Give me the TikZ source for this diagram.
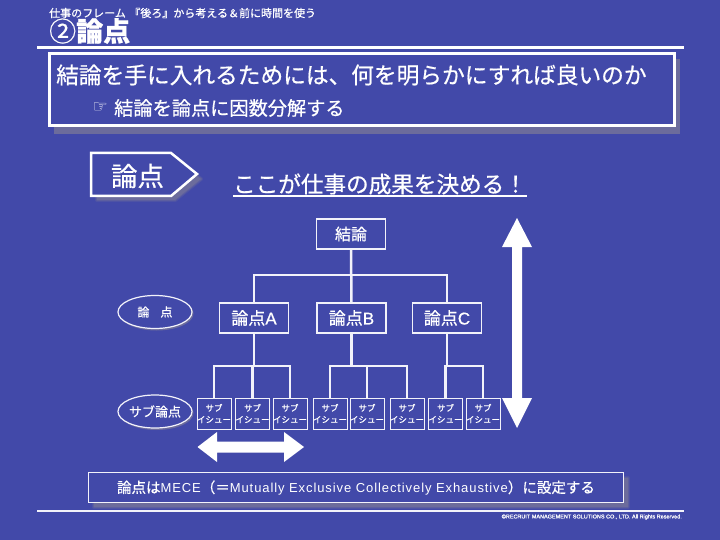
\documentclass[tikz,border=0pt]{standalone}
\usepackage{fontspec}
\setmainfont{Noto Sans CJK JP}[RawFeature={embolden=0.6}]
\newfontfamily\lat[RawFeature={embolden=0.6}]{Liberation Sans}
\newfontfamily\latsp[LetterSpace=7]{Liberation Sans}
\newfontfamily\symb{DejaVu Sans}
\newcommand{\fs}[1]{\fontsize{#1}{#1}\selectfont}
\definecolor{bgblue}{HTML}{4249A9}
\definecolor{shadowblue}{HTML}{6C6C9C}
\definecolor{linewhite}{HTML}{F2F2FA}
\tikzset{
  txt/.style={text=white, inner sep=0pt},
  softshadow/.style={preaction={draw=shadowblue, line width=4pt, opacity=.3, line join=round},
    preaction={draw=shadowblue, line width=2pt, opacity=.5, line join=round}, fill=shadowblue},
  ronbox/.style={draw=linewhite, line width=1.5pt, fill=bgblue, text=white, inner sep=0pt,
    minimum width=69pt, minimum height=30pt, font=\fs{17}},
  subbox/.style={draw=linewhite, line width=1pt, fill=bgblue, text=white, inner sep=0pt,
    minimum width=34pt, minimum height=31pt, align=center, font=\fs{8.5}},
  oval/.style={draw=linewhite, line width=1.2pt, fill=bgblue, text=white, ellipse, inner sep=0pt,
    minimum width=74pt, minimum height=33pt},
  tree/.style={draw=linewhite, line width=2.5pt},
}
\usetikzlibrary{shapes.geometric}
\begin{document}
\begin{tikzpicture}[x=1pt, y=-1pt]
    \useasboundingbox (0, 0) rectangle (720, 540) ;
    \fill[bgblue] (0, 0) rectangle (720, 540) ;
  %--- Titre
    \node[txt, anchor=west, font=\fs{11}] (soustitre) at (49, 13) {仕事のフレーム\hspace{3.5pt}『後ろ』から考える＆前に時間を使う} ;
    \node[txt, anchor=west, font=\fs{27}] (titre) at (49, 31) {②{\bfseries 論点}} ;
    \draw[white, line width=2.5pt] (37, 47.5) -- (684, 47.5) ;
  %--- Cadre du haut
    \fill[shadowblue] (54, 59) rectangle (680, 134) ;
    \draw[white, line width=3pt, fill=bgblue] (49, 54) rectangle (674, 126) ;
    \node[txt, anchor=west, font=\fs{22.7}] (question) at (56, 75) {結論を手に入れるためには、何を明らかにすれば良いのか} ;
    \node[txt, anchor=west, font=\fs{19.2}] (reponse) at (114, 108) {結論を論点に因数分解する} ;
    \node[txt, anchor=east, font=\fs{17}\symb] (main) at (108, 108) {☞} ;
  %--- Etiquette
    \path[softshadow] (97, 159) -- (175, 159) -- (201, 179) -- (175, 200) -- (97, 200) -- cycle ;
    \draw[white, line width=2.5pt, fill=bgblue] (91, 153) -- (171, 153) -- (197, 174) -- (171, 196) -- (91, 196) -- cycle ;
    \node[txt, font=\fs{26.5}] (etiquette) at (137.5, 176) {論点} ;
    \node[txt, font=\fs{22.6}] (resultat) at (380, 184) {ここが仕事の成果を決める！} ;
    \draw[white, line width=1.5pt] (233, 196) -- (527, 196) ;
  %--- Ovales
    \fill[shadowblue] (156.5, 313.5) ellipse (37 and 17) ;
    \fill[shadowblue] (156.5, 413) ellipse (37 and 17) ;
    \node[oval, font=\fs{12}] (ovalA) at (155, 312) {論\hspace{11pt}点} ;
    \node[oval, font=\fs{13}] (ovalB) at (155, 411.5) {サブ論点} ;
  %--- Arbre
    \node[ronbox, font=\fs{16}] (conclusion) at (351, 234) {結論} ;
    \node[ronbox] (ronA) at (254, 318) {論点{\lat A}} ;
    \node[ronbox] (ronB) at (351.5, 318) {論点{\lat B}} ;
    \node[ronbox] (ronC) at (447, 318) {論点{\lat C}} ;
    \node[subbox] (subA1) at (214, 413.5) {サブ\\[3pt]イシュー} ;
    \node[subbox] (subA2) at (252.5, 413.5) {サブ\\[3pt]イシュー} ;
    \node[subbox] (subA3) at (290, 413.5) {サブ\\[3pt]イシュー} ;
    \node[subbox] (subB1) at (330, 413.5) {サブ\\[3pt]イシュー} ;
    \node[subbox] (subB2) at (367, 413.5) {サブ\\[3pt]イシュー} ;
    \node[subbox] (subB3) at (407, 413.5) {サブ\\[3pt]イシュー} ;
    \node[subbox] (subC1) at (445.5, 413.5) {サブ\\[3pt]イシュー} ;
    \node[subbox] (subC2) at (483, 413.5) {サブ\\[3pt]イシュー} ;
    \coordinate (busR) at (351, 275) ;
    \coordinate (busA) at (254, 366) ;
    \coordinate (busB) at (351.5, 366) ;
    \coordinate (busC) at (447, 366) ;
  %--- Liaisons
    \draw[tree] (conclusion) -- (ronB) ;
    \draw[tree] (ronA) |- (busR) ;
    \draw[tree] (ronC) |- (busR) ;
    \draw[tree] (ronA) -- (busA) ;
    \draw[tree] (ronB) -- (busB) ;
    \draw[tree] (ronC) -- (busC) ;
    \draw[tree] (subA1) |- (busA) ;
    \draw[tree] (subA2) -- (subA2 |- busA) ;
    \draw[tree] (subA3) |- (busA) ;
    \draw[tree] (subB1) |- (busB) ;
    \draw[tree] (subB2) -- (subB2 |- busB) ;
    \draw[tree] (subB3) |- (busB) ;
    \draw[tree] (subC1) |- (busC) ;
    \draw[tree] (subC2) |- (busC) ;
  %--- Fleches
    \fill[white] (517, 218) -- (532, 247) -- (522, 247) -- (522, 398) -- (532, 398) -- (517, 428)
      -- (502, 398) -- (512, 398) -- (512, 247) -- (502, 247) -- cycle ;
    \fill[white] (197.5, 447) -- (217, 432) -- (217, 441.5) -- (284, 441.5) -- (284, 432) -- (304, 447)
      -- (284, 462) -- (284, 452.5) -- (217, 452.5) -- (217, 462) -- cycle ;
  %--- Cadre du bas
    \path[softshadow] (94, 478) rectangle (628, 507) ;
    \draw[linewhite, line width=1pt, fill=bgblue] (88.5, 472.5) rectangle (623, 502.5) ;
    \node[txt, font=\fs{14.5}] (mece) at (356, 488) {論点は{\latsp\fs{13}MECE}（＝{\latsp\fs{13}Mutually Exclusive Collectively Exhaustive}）に設定する} ;
    \draw[linewhite, line width=2.5pt] (37, 511) -- (684, 511) ;
    \node[txt, anchor=east, font=\fs{5.5}\lat] (copyright) at (682, 517) {©RECRUIT MANAGEMENT SOLUTIONS CO., LTD. All Rights Reserved.} ;
\end{tikzpicture}
\end{document}
